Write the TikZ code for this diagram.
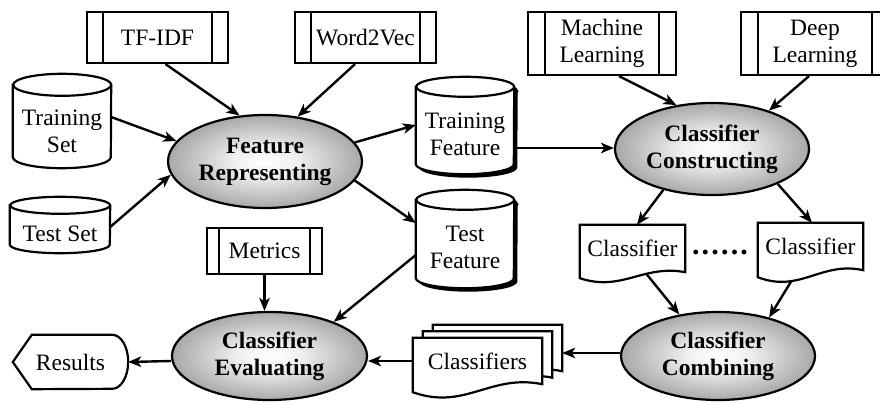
\documentclass[tikz,border=0pt]{standalone}
\usepackage{fontspec}
\setmainfont{Liberation Serif}
\usetikzlibrary{arrows.meta,calc,shapes.geometric}
\pgfdeclarelayer{arrowlayer}
\pgfdeclarelayer{shapelayer}
\pgfsetlayers{arrowlayer,shapelayer,main}

% soft grey fill for the processing steps
\pgfdeclareradialshading{taskshade}{\pgfpoint{0bp}{0bp}}{%
  color(0bp)=(white); color(8bp)=(black!6); color(20bp)=(black!26);
  color(32bp)=(black!45); color(44bp)=(black!57); color(50bp)=(black!61)}

% cylinder outline around a node: #1 node, #2 x radius, #3 y radius, #4 path style
\newcommand\cylshape[4]{%
  \path[#4] ([yshift=-#3pt]#1.north west) -- ([yshift=#3pt]#1.south west)
    arc[start angle=180,end angle=360,x radius=#2pt,y radius=#3pt]
    -- ([yshift=-#3pt]#1.north east)
    arc[start angle=0,end angle=180,x radius=#2pt,y radius=#3pt] -- cycle;
  \draw[shapeline] ([yshift=-#3pt]#1.north east)
    arc[start angle=0,end angle=-180,x radius=#2pt,y radius=#3pt];
}
% document outline with a wavy lower edge: #1 node, #2 control reach, #3 drop
\newcommand\docshape[3]{%
  \path[shapeline,fill=white] (#1.north west) -- (#1.north east) -- (#1.south east)
    .. controls +({-#2},{-1.33*#3}) and +({#2},{2.33*#3}) .. ([yshift=-#3pt]#1.south west)
    -- cycle;
}
% vertical side bars of a predefined-process box
\newcommand\procbars[2]{%
  \draw[shapeline] ([xshift=#2pt]#1.north west) -- ([xshift=#2pt]#1.south west);
  \draw[shapeline] ([xshift=-#2pt]#1.north east) -- ([xshift=-#2pt]#1.south east);
}

\tikzset{
  every node/.style={font=\fontsize{23.5}{27}\selectfont, align=center, inner sep=0pt},
  shapeline/.style={draw=black, line width=2.2pt, line join=miter},
  arr/.style={line width=2.4pt, -{Stealth[length=13pt,width=10.5pt,inset=3.5pt]}},
  proc/.style={rectangle, draw=black, line width=2.2pt, fill=white},
  task/.style={ellipse, draw=black, line width=2.2pt, shade, shading=taskshade,
    minimum width=194pt, font=\fontsize{23.5}{27}\selectfont\bfseries},
  holder/.style={rectangle, minimum width=#1pt},
}

\begin{document}
\begin{tikzpicture}[x=1pt,y=-1pt]
\path[use as bounding box] (0,0) rectangle (880,403);

% ---- process boxes
\node[proc, minimum width=141pt, minimum height=51pt] (tfidf) at (157.5,37.5) {TF-IDF};
\node[proc, minimum width=141pt, minimum height=51pt] (w2v) at (365.5,37.5) {Word2Vec};
\node[proc, minimum width=148pt, minimum height=63pt] (ml) at (602,43.5) {Machine\\Learning};
\node[proc, minimum width=148pt, minimum height=63pt] (dl) at (815,43.5) {Deep\\Learning};
\node[proc, minimum width=115pt, minimum height=46pt] (metrics) at (264.5,251) {Metrics};
\procbars{tfidf}{17}
\procbars{w2v}{17}
\procbars{ml}{18}
\procbars{dl}{18}
\procbars{metrics}{13}

% ---- data stores
\node[holder=98, minimum height=94pt] (trainset) at (62,121) {};
\node[holder=100, minimum height=56pt] (testset) at (60,225) {};
\node[holder=98, minimum height=97pt] (trainfeat) at (465,125.5) {};
\node[holder=98, minimum height=98pt] (testfeat) at (465,239) {};
\begin{pgfonlayer}{shapelayer}
  \begin{scope}[transform canvas={shift={(3.5pt,-3.5pt)}}]
    \cylshape{trainfeat}{49}{10}{fill=black}
    \cylshape{testfeat}{49}{10}{fill=black}
  \end{scope}
  \cylshape{trainset}{49}{11}{shapeline,fill=white}
  \cylshape{testset}{50}{8.5}{shapeline,fill=white}
  \cylshape{trainfeat}{49}{10}{shapeline,fill=white}
  \cylshape{testfeat}{49}{10}{shapeline,fill=white}
\end{pgfonlayer}
\node (trainsetT) at ([yshift=-10pt]trainset.center) {Training\\Set};
\node (testsetT) at ([yshift=-9pt]testset.center) {Test Set};
\node (trainfeatT) at ([yshift=-9pt]trainfeat.center) {Training\\Feature};
\node (testfeatT) at ([yshift=-8pt]testfeat.center) {Test\\Feature};

% ---- processing steps
\node[task, minimum height=93pt] (fr) at (265,161.5) {Feature\\Representing};
\node[task, minimum height=92pt] (cc) at (712,149) {Classifier\\Constructing};
\node[task, minimum height=88pt] (ccomb) at (718,356) {Classifier\\Combining};
\node[task, minimum height=88pt, minimum width=195pt] (ce) at (269.5,356) {Classifier\\Evaluating};

% ---- documents
\node[holder=105, minimum height=47pt] (cl1) at (632.5,248.5) {Classifier};
\node[holder=105, minimum height=47pt] (cl2) at (810.5,246.5) {Classifier};
\node[font=\fontsize{30}{30}\selectfont\bfseries] (dots) at (720,252)
  {.\hspace{2.2pt}.\hspace{2.2pt}.\hspace{2.2pt}.\hspace{2.2pt}.\hspace{2.2pt}.};
\node[holder=129, minimum height=46pt] (cls1) at (477.5,361) {Classifiers};
\node[holder=129, minimum height=46pt] (cls2) at ([shift={(10pt,6.5pt)}]cls1.center) {};
\node[holder=129, minimum height=46pt] (cls3) at ([shift={(20pt,13pt)}]cls1.center) {};
\node[holder=115, minimum height=54pt] (res) at (70.5,362) {Results};
\begin{pgfonlayer}{shapelayer}
  \docshape{cl1}{42}{6}
  \docshape{cl2}{42}{7}
  \docshape{cls3}{52}{8}
  \docshape{cls2}{52}{8}
  \docshape{cls1}{52}{8}
  \path[shapeline,fill=white] (res.west) -- ([xshift=19pt]res.north west)
    -- ([xshift=-16pt]res.north east)
    arc[start angle=90,end angle=-90,x radius=16pt,y radius=27pt]
    -- ([xshift=19pt]res.south west) -- cycle;
\end{pgfonlayer}

% ---- connectors
\begin{pgfonlayer}{arrowlayer}
  \draw[arr] ([xshift=8pt]tfidf.south) -- (fr.119);
  \draw[arr] ([xshift=-10.5pt]w2v.south) -- (fr.54);
  \draw[arr] ([yshift=4pt]trainset.east) -- (fr.167);
  \draw[arr] ([yshift=-2pt]testset.east) -- (fr.188);
  \draw[arr] (fr.12) -- ([yshift=0.5pt]trainfeat.west);
  \draw[arr] (fr.-12) -- ([yshift=16pt]testfeat.west);
  \draw[arr] ([xshift=3pt,yshift=-22.5pt]trainfeat.east) -- ([yshift=1pt]cc.west);
  \draw[arr] ([xshift=17pt]ml.south) -- (cc.129);
  \draw[arr] ([xshift=-6pt]dl.south) -- (cc.34);
  \draw[arr] (cc.220) -- ([xshift=4.5pt]cl1.north);
  \draw[arr] (cc.-28) -- ([xshift=1.5pt]cl2.north);
  \draw[arr] ([xshift=12.5pt]cl1.south) -- (ccomb.133);
  \draw[arr] ([xshift=-12.5pt]cl2.south) -- (ccomb.37);
  \draw[arr] ([yshift=3pt]ccomb.west) -- ([yshift=3pt]ccomb.west -| cls3.east);
  \draw[arr] (cls1.west) -- (cls1.west -| ce.east);
  \draw[arr] (metrics.south) -- (metrics.south |- ce.north);
  \draw[arr] ([yshift=-16pt]testfeat.west) -- (ce.28);
  \draw[arr] ([yshift=-5pt]ce.west) -- (res.east);
\end{pgfonlayer}
\end{tikzpicture}
\end{document}
